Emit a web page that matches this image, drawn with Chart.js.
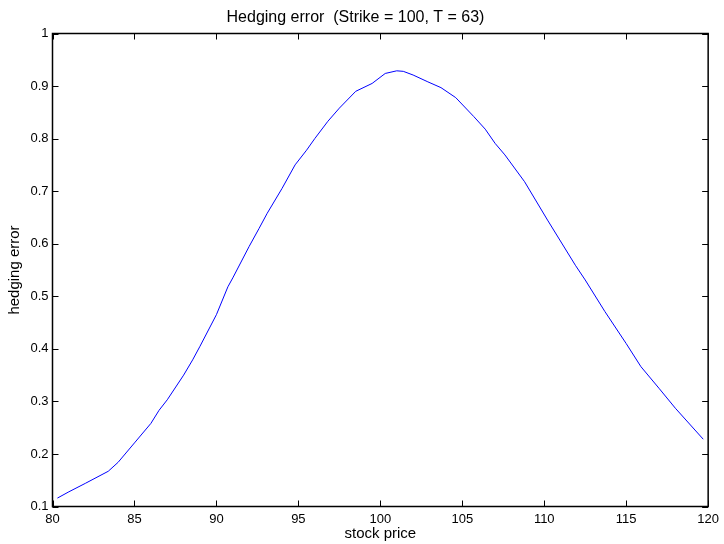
<!DOCTYPE html>
<html lang="en">
<head>
    <meta charset="UTF-8">
    <title>Hedging error</title>
    <style>
        body { margin: 0; background: #fff; }
        #errChart { display: block; }
    </style>
</head>
<body>
    <canvas id="errChart" width="724" height="544"></canvas>

    <script src="https://cdn.jsdelivr.net/npm/chart.js"></script>
    <script>
        // stock price samples and the hedging error
        const stockPrice = [80.3, 81, 82, 83.4, 84, 85, 86, 86.5, 87, 88, 88.55, 89, 90, 90.7, 91, 92, 92.6, 93.1, 94, 94.8,
            95.5, 96, 96.8, 97.5, 98.5, 99.5, 100.3, 101, 101.4, 102, 102.9, 103.7, 104.6, 105.7, 106.4, 107,
            107.6, 108.8, 110.2, 111.9, 112.5, 113.7, 115, 115.9, 117, 118, 119.7];
        const hedgingError = [0.116, 0.128, 0.144, 0.167, 0.184, 0.221, 0.258, 0.283, 0.303, 0.350, 0.379, 0.405, 0.465, 0.518, 0.535, 0.595, 0.629, 0.658, 0.705, 0.750,
            0.778, 0.800, 0.833, 0.858, 0.890, 0.905, 0.924, 0.929, 0.928, 0.921, 0.908, 0.897, 0.878, 0.842, 0.818, 0.791,
            0.769, 0.718, 0.645, 0.559, 0.531, 0.471, 0.410, 0.366, 0.325, 0.287, 0.228];

        const xTicks = [80, 85, 90, 95, 100, 105, 110, 115, 120];
        const yTicks = [0.1, 0.2, 0.3, 0.4, 0.5, 0.6, 0.7, 0.8, 0.9, 1];

        const fontFamily = '"Liberation Sans", Arial, Helvetica, sans-serif';

        // matlab style box with inward ticks on all four sides
        const boxPlugin = {
            id: 'boxTicks',
            afterDraw(chart) {
                const ctx = chart.ctx;
                const area = chart.chartArea;
                const xs = chart.scales.x;
                const ys = chart.scales.y;
                const len = 6;
                ctx.save();
                ctx.strokeStyle = '#000';
                ctx.lineWidth = 1;
                ctx.beginPath();
                xTicks.forEach(v => {
                    const px = Math.round(xs.getPixelForValue(v)) + 0.5;
                    ctx.moveTo(px, area.bottom);
                    ctx.lineTo(px, area.bottom - len);
                    ctx.moveTo(px, area.top);
                    ctx.lineTo(px, area.top + len);
                });
                yTicks.forEach(v => {
                    const py = Math.round(ys.getPixelForValue(v)) + 0.5;
                    ctx.moveTo(area.left, py);
                    ctx.lineTo(area.left + len, py);
                    ctx.moveTo(area.right, py);
                    ctx.lineTo(area.right - len, py);
                });
                ctx.stroke();
                ctx.lineWidth = 1.5;
                ctx.strokeRect(area.left, area.top, area.right - area.left, area.bottom - area.top);
                ctx.restore();
            }
        };

        const ctx = document.getElementById('errChart').getContext('2d');
        new Chart(ctx, {
            type: 'line',
            data: {
                datasets: [{
                    label: 'hedging error',
                    data: stockPrice.map((x, i) => ({ x: x, y: hedgingError[i] })),
                    borderColor: '#0000ff',
                    borderWidth: 1,
                    pointRadius: 0,
                    tension: 0,
                    fill: false
                }]
            },
            options: {
                responsive: false,
                animation: false,
                layout: { padding: { top: 0, right: 13, bottom: 0, left: 0 } },
                plugins: {
                    legend: { display: false },
                    tooltip: { enabled: false },
                    title: {
                        display: true,
                        text: 'Hedging error  (Strike = 100, T = 63)',
                        color: '#000',
                        font: { family: fontFamily, size: 16, weight: 'normal' },
                        padding: { top: 8.4, bottom: 5.9 }
                    }
                },
                scales: {
                    x: {
                        type: 'linear',
                        min: 80,
                        max: 120,
                        afterBuildTicks: scale => { scale.ticks = xTicks.map(v => ({ value: v })); },
                        afterFit: scale => { scale.height = 37.5; },
                        grid: { display: false, drawTicks: false },
                        border: { display: false },
                        ticks: {
                            color: '#000',
                            padding: 5,
                            maxRotation: 0,
                            font: { family: fontFamily, size: 13 }
                        },
                        title: {
                            display: true,
                            text: 'stock price',
                            color: '#000',
                            font: { family: fontFamily, size: 15 },
                            padding: { top: 0, bottom: 1 }
                        }
                    },
                    y: {
                        min: 0.1,
                        max: 1,
                        afterBuildTicks: scale => { scale.ticks = yTicks.map(v => ({ value: v })); },
                        afterFit: scale => { scale.width = 52.5; },
                        grid: { display: false, drawTicks: false },
                        border: { display: false },
                        ticks: {
                            color: '#000',
                            padding: 4,
                            font: { family: fontFamily, size: 13 },
                            callback: v => String(Math.round(v * 10) / 10)
                        },
                        title: {
                            display: true,
                            text: 'hedging error',
                            color: '#000',
                            font: { family: fontFamily, size: 15 },
                            padding: { top: 6, bottom: 0 }
                        }
                    }
                }
            },
            plugins: [boxPlugin]
        });
    </script>
</body>
</html>
